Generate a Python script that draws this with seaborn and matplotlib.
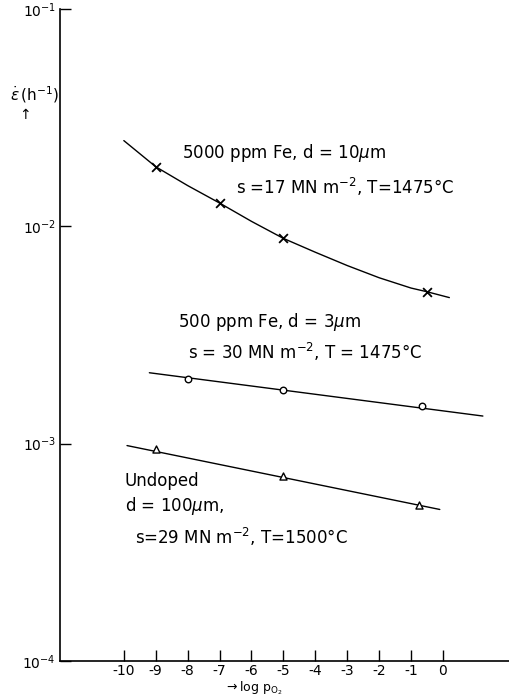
import matplotlib
matplotlib.use("Agg")
import matplotlib.pyplot as plt
import seaborn as sns

# ---- data ----
# measured points (x = log pO2, y = strain rate, h^-1)
fe5000_x = [-9, -7, -5, -0.5]
fe5000_y = [0.0188, 0.0128, 0.0088, 0.0050]
fe500_x = [-8, -5, -0.65]
fe500_y = [0.00199, 0.00177, 0.00149]
undoped_x = [-9, -5, -0.75]
undoped_y = [0.00095, 0.00071, 0.00052]

# hand-drawn trend lines
fe5000_curve_x = [-10, -9, -8, -7, -6, -5, -4, -3, -2, -1, -0.5, 0.2]
fe5000_curve_y = [0.0248, 0.0188, 0.0154, 0.0128, 0.01054, 0.0088, 0.0076,
                  0.0066, 0.0058, 0.0052, 0.0050, 0.0047]
fe500_line_x = [-9.2, 1.25]
fe500_line_y = [0.00212, 0.00134]
undoped_line_x = [-9.9, -0.1]
undoped_line_y = [0.00098, 0.000498]

xticks = [-10, -9, -8, -7, -6, -5, -4, -3, -2, -1, 0]
xtick_labels = ["-10", "-9", "-8", "-7", "-6", "-5", "-4", "-3", "-2", "-1", "0"]
yticks = [1e-4, 1e-3, 1e-2, 1e-1]
ytick_labels = [r"$10^{-4}$", r"$10^{-3}$", r"$10^{-2}$", r"$10^{-1}$"]

sns.set_style("ticks")
plt.rcParams["font.family"] = ["DejaVu Sans"]
plt.rcParams["text.color"] = "black"
plt.rcParams["xtick.color"] = "black"
plt.rcParams["ytick.color"] = "black"
plt.rcParams["axes.labelcolor"] = "black"

fig = plt.figure(figsize=(5.10, 6.98), dpi=100)
ax = fig.add_axes([60 / 510, 37 / 698, 450 / 510, 652 / 698])

lc = "black"
sns.lineplot(x=fe5000_curve_x, y=fe5000_curve_y, ax=ax, color=lc, lw=1.0,
             sort=False, estimator=None)
sns.lineplot(x=fe500_line_x, y=fe500_line_y, ax=ax, color=lc, lw=1.0,
             estimator=None)
sns.lineplot(x=undoped_line_x, y=undoped_line_y, ax=ax, color=lc, lw=1.0,
             estimator=None)

sns.scatterplot(x=fe5000_x, y=fe5000_y, ax=ax, marker="x", s=40,
                color=lc, linewidth=1.3, zorder=5)
sns.scatterplot(x=fe500_x, y=fe500_y, ax=ax, marker="o", s=22,
                facecolor="white", edgecolor=lc, linewidth=1.0, zorder=5)
sns.scatterplot(x=undoped_x, y=undoped_y, ax=ax, marker="^", s=26,
                facecolor="white", edgecolor=lc, linewidth=1.0, zorder=5)

ax.set_yscale("log")
ax.set_ylim(1e-4, 1e-1)
ax.set_xlim(-12, 2.1)
ax.set_xticks(xticks)
ax.set_xticklabels(xtick_labels, fontsize=10)
ax.set_yticks(yticks)
ax.set_yticklabels(ytick_labels, fontsize=10)
ax.minorticks_off()
ax.tick_params(axis="both", direction="in", length=8, width=1.0)
ax.tick_params(axis="x", pad=2)
ax.tick_params(axis="y", pad=3)

for s in ["top", "right"]:
    ax.spines[s].set_visible(False)
for s in ["left", "bottom"]:
    ax.spines[s].set_linewidth(1.2)
    ax.spines[s].set_color("black")

ax.set_xlabel("")
ax.set_ylabel("")
fig.text(253 / 510, 1 - 688 / 698, r"$\rightarrow\log\,\mathrm{p}_{\mathrm{O}_2}$",
         fontsize=9, ha="center", va="center")

fs = 12
ax.text(-8.19, 0.0218, r"5000 ppm Fe, d = 10$\mu$m", fontsize=fs, va="center", ha="left")
ax.text(-6.47, 0.0151, r"s =17 MN m$^{-2}$, T=1475°C", fontsize=fs, va="center", ha="left")
ax.text(-8.31, 0.00363, r"500 ppm Fe, d = 3$\mu$m", fontsize=fs, va="center", ha="left")
ax.text(-8.0, 0.00264, r"s = 30 MN m$^{-2}$, T = 1475°C", fontsize=fs, va="center", ha="left")
ax.text(-9.97, 0.000676, "Undoped", fontsize=fs, va="center", ha="left")
ax.text(-9.97, 0.000514, r"d = 100$\mu$m,", fontsize=fs, va="center", ha="left")
ax.text(-9.66, 0.000374, r"s=29 MN m$^{-2}$, T=1500°C", fontsize=fs, va="center", ha="left")

fig.text(35 / 510, 1 - 95 / 698, r"$\dot{\varepsilon}\,(\mathrm{h}^{-1})$", fontsize=11,
         ha="center", va="center")
fig.text(25 / 510, 1 - 115 / 698, "↑", fontsize=10, ha="center", va="center")

fig.savefig("out.png", dpi=100, facecolor="white")
